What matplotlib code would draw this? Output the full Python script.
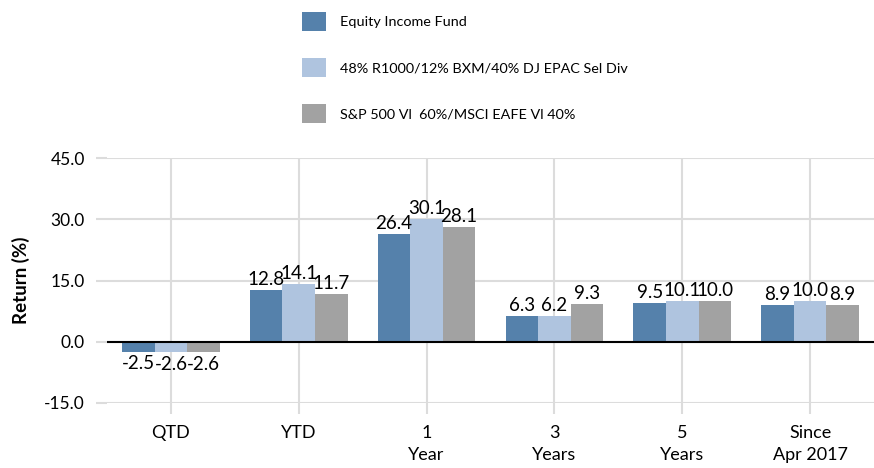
import matplotlib
matplotlib.use('Agg')
import matplotlib.pyplot as plt
from matplotlib.patches import Patch
import numpy as np

plt.rcParams['font.family'] = ['Lato', 'DejaVu Sans']

periods = ['QTD', 'YTD', '1\nYear', '3\nYears', '5\nYears', 'Since\nApr 2017']
series_names = ['Equity Income Fund',
                '48% R1000/12% BXM/40% DJ EPAC Sel Div',
                'S&P 500 Vl  60%/MSCI EAFE Vl 40%']
fund = [-2.5, 12.8, 26.4, 6.3, 9.5, 8.9]
blend = [-2.6, 14.1, 30.1, 6.2, 10.1, 10.0]
sp_msci = [-2.6, 11.7, 28.1, 9.3, 10.0, 8.9]
yticks = [-15.0, 0.0, 15.0, 30.0, 45.0]

colors = ['#5581ab', '#afc4df', '#a2a2a2']
grid_col = '#dcdcdc'

fig = plt.figure(figsize=(8.74, 4.68), dpi=100)
ax = fig.add_axes([0.1224, 0.139, 0.8776, 0.523])

x = np.arange(len(periods))
w = 0.255
for i, (vals, c) in enumerate(zip([fund, blend, sp_msci], colors)):
    pos = x + (i - 1) * w
    ax.bar(pos, vals, width=w, color=c, zorder=3)
    for p, v in zip(pos, vals):
        if v >= 0:
            ax.text(p, v + 0.5, f'{v:.1f}', ha='center', va='bottom', fontsize=13.5, zorder=4)
        else:
            ax.text(p, v - 0.8, f'{v:.1f}', ha='center', va='top', fontsize=13.5, zorder=4)

ax.axhline(0, color='black', lw=1.5, zorder=4)
ax.set_xlim(-0.5, len(periods) - 0.5)
ax.set_ylim(-15, 45)
ax.set_yticks(yticks)
ax.set_yticklabels([f'{t:.1f}' for t in yticks], fontsize=12.5)
ax.set_xticks(x)
ax.set_xticklabels(periods, fontsize=13, linespacing=1.45, va='top')
ax.grid(True, color=grid_col, lw=1.5, zorder=0)
ax.tick_params(axis='both', color=grid_col, width=1.5, length=8)
ax.tick_params(axis='y', pad=8)
ax.tick_params(axis='x', pad=8)
for s in ax.spines.values():
    s.set_visible(False)
ax.set_ylabel('Return (%)', fontsize=13.5, fontweight='bold', labelpad=10)

handles = [Patch(facecolor=c, edgecolor='none') for c in colors]
fig.legend(handles, series_names, loc='upper left', bbox_to_anchor=(0.332, 1.0),
           frameon=False, fontsize=10.4, handlelength=1.6, handleheight=1.6,
           labelspacing=1.9, handletextpad=1.0, borderaxespad=0.45)

fig.savefig('out.png', dpi=100)
